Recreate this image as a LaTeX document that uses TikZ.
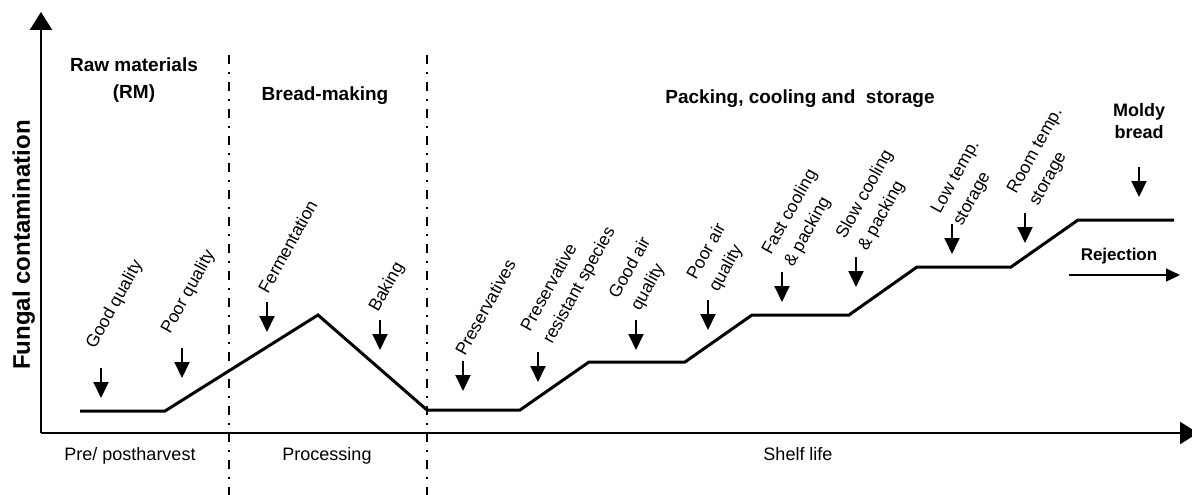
\documentclass[tikz,border=0pt]{standalone}
\usepackage{fontspec}
\setmainfont{Liberation Sans}
\usetikzlibrary{arrows.meta}

\tikzset{
    axisline/.style={line width=2.5pt, -{Triangle[width=22pt,length=18pt]}},
    phaseline/.style={line width=2.5pt, dash pattern=on 9pt off 8pt on 2pt off 8pt},
    curveline/.style={line width=3pt, line join=miter},
    downarrow/.style={line width=2pt, -{Triangle[width=15pt,length=16pt]}},
    rejarrow/.style={line width=1.4pt, -{Triangle[width=13pt,length=14pt]}},
    factorlabel/.style={rotate=61, anchor=base west, inner sep=0pt, align=left,
        font=\fontsize{17.5}{25}\selectfont},
    phasetitle/.style={anchor=base, inner sep=0pt, align=center,
        font=\bfseries\fontsize{19}{27}\selectfont},
    stagelabel/.style={anchor=base, inner sep=0pt, font=\fontsize{18}{22}\selectfont}
}

\begin{document}
\begin{tikzpicture}[x=1pt, y=-1pt]
    \useasboundingbox (0,0) rectangle (1192,495);

    % ==========================================
    % --- Axes ---
    % ==========================================
    \coordinate (origin) at (41,433);
    \coordinate (ytop) at (41,12);
    \coordinate (xend) at (1198,433);
    \draw[axisline] (origin) -- (ytop);
    \draw[axisline] (origin) -- (xend);

    \node[rotate=90, anchor=base, inner sep=0pt, font=\bfseries\fontsize{24}{28}\selectfont]
        (ylabel) at (30,245) {Fungal contamination};

    % Phase separators
    \draw[phaseline] (229,55) -- (229,495);
    \draw[phaseline] (427,55) -- (427,495);

    % Stage names below the axis
    \node[stagelabel] (prepost) at (130,460) {Pre/ postharvest};
    \node[stagelabel] (processing) at (327,460) {Processing};
    \node[stagelabel] (shelflife) at (798,460) {Shelf life};

    % Phase titles
    \node[phasetitle] (rawmat) at (134,99) {Raw materials\\(RM)};
    \node[phasetitle] (breadmaking) at (325,100) {Bread-making};
    \node[phasetitle] (packing) at (800,103) {Packing, cooling and~ storage};

    % ==========================================
    % --- Contamination level ---
    % ==========================================
    \draw[curveline] (80,411) -- (165,411) -- (318,315) -- (427,410) -- (520,410)
        -- (589,362) -- (685,362) -- (752,315) -- (849,315) -- (917,267)
        -- (1011,267) -- (1078,220) -- (1174,220);

    % Factors: arrow x / arrow top / label x / label y (last line) / text
    \foreach \ax/\ay/\lx/\ly/\txt [count=\i] in {
        101/368/95/350/{Good quality},
        182/348/170/335/{Poor quality},
        267/302/268/295/{Fermentation},
        380/320/378/313/{Baking},
        463/361/465/357/{Preservatives},
        538/352/552/345/{Preservative\\resistant species},
        636/320/640/312/{Good air\\quality},
        708/300/718/293/{Poor air\\quality},
        782/272/793/268/{Fast cooling\\\& packing},
        856/257/867/252/{Slow cooling\\\& packing},
        952/224/962/227/{Low temp.\\storage},
        1025/213/1038/207/{Room temp.\\storage}} {
        \draw[downarrow] (\ax,\ay) -- ++(0,30);
        \node[factorlabel] (factor\i) at (\lx,\ly) {\txt};
    }

    % End point
    \node[phasetitle, font=\bfseries\fontsize{18}{22}\selectfont] (moldy) at (1139,138) {Moldy\\bread};
    \draw[downarrow] (1139,167) -- ++(0,30);

    \node[anchor=base, inner sep=0pt, font=\bfseries\fontsize{17}{20}\selectfont]
        (rejection) at (1119,260) {Rejection};
    \coordinate (rejstart) at (1069,275);
    \coordinate (rejend) at (1180,275);
    \draw[rejarrow] (rejstart) -- (rejend);

\end{tikzpicture}
\end{document}
